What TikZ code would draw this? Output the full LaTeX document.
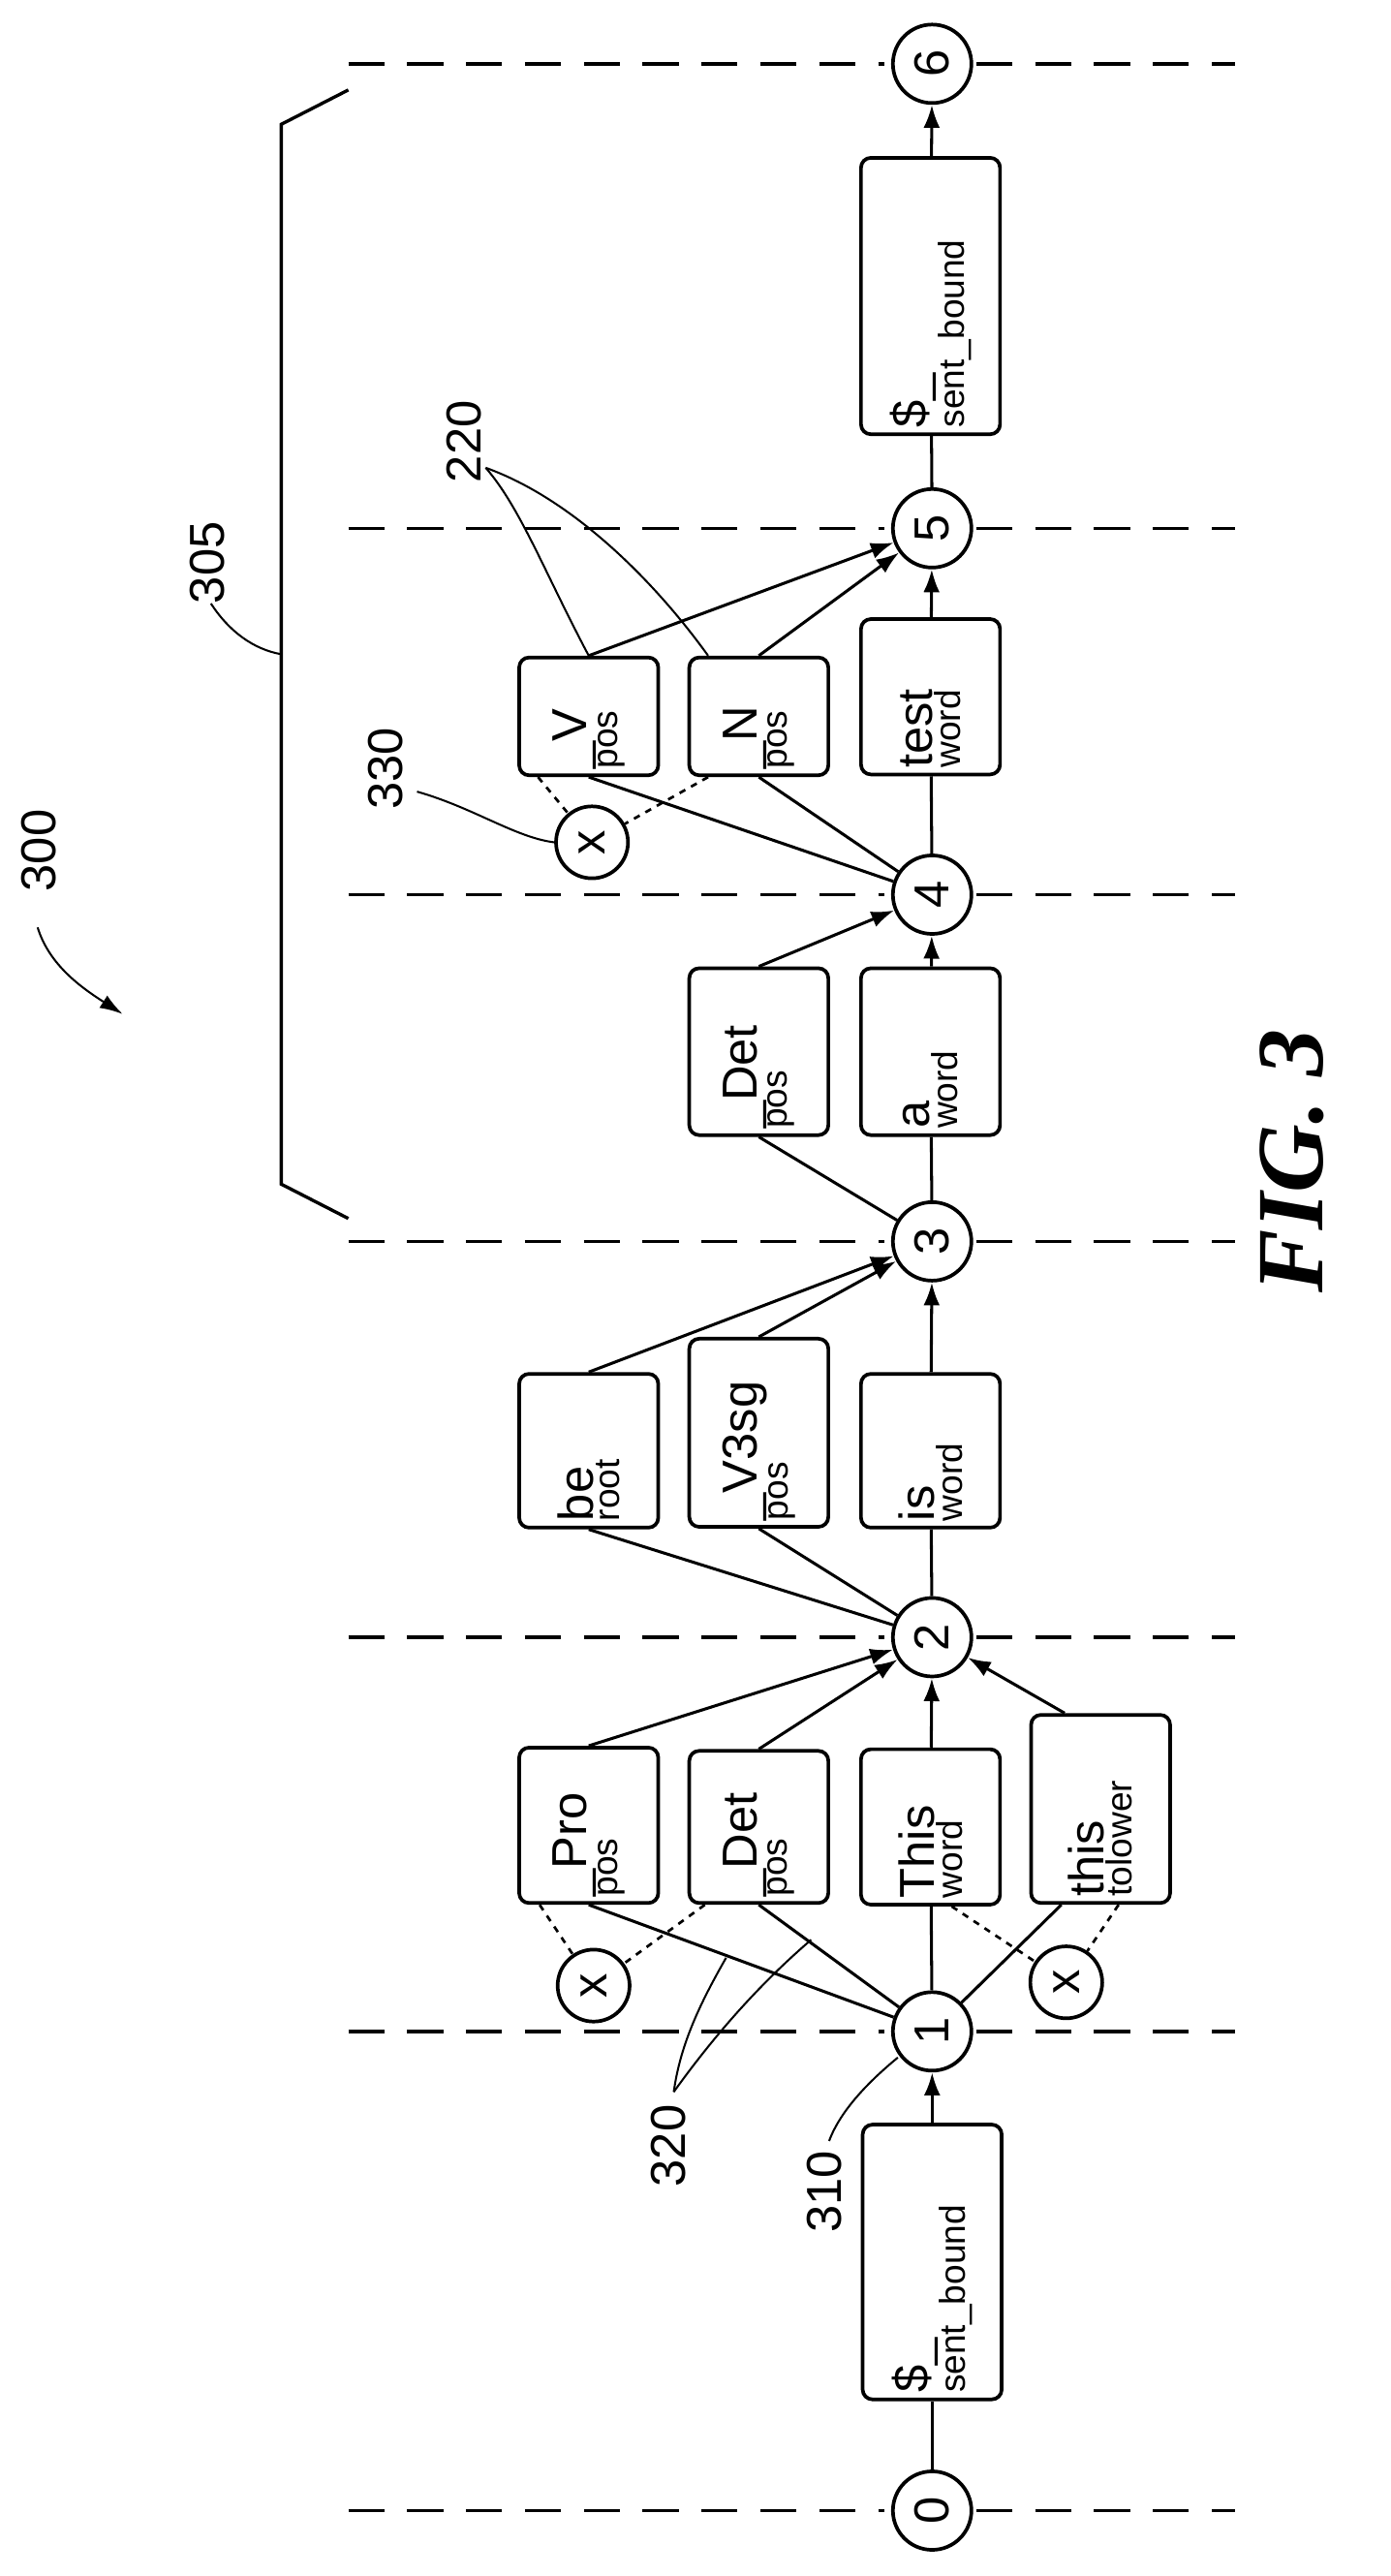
\documentclass[tikz,border=0pt]{standalone}
\usepackage{fontspec}
\setmainfont{Liberation Sans}
\newfontfamily\figfont{Liberation Serif}
\usetikzlibrary{arrows.meta,calc}
\newcommand{\mf}{\fontsize{30}{30}\selectfont}
\newcommand{\sff}{\fontsize{22}{26}\selectfont}
\begin{document}
\begin{tikzpicture}[x=1pt,y=-1pt,
  box/.style={draw,rounded corners=6pt,line width=2.2pt,rotate=90,inner xsep=4pt,inner ysep=1pt,minimum height=85pt,align=left},
  st/.style={draw,circle,line width=2.2pt,minimum size=48pt,inner sep=0pt,rotate=90,font=\fontsize{30}{30}\selectfont},
  xc/.style={draw,circle,line width=2.2pt,minimum size=44pt,inner sep=0pt,rotate=90,font=\fontsize{30}{30}\selectfont},
  ln/.style={line width=1.8pt},
  ar/.style={line width=1.8pt,-{Latex[length=14pt,width=10pt]}},
  dt/.style={line width=1.6pt,dash pattern=on 4pt off 4pt},
  grid/.style={line width=2pt,dash pattern=on 22pt off 14pt},
  lead/.style={line width=1.2pt},
  lbl/.style={rotate=90,font=\fontsize{30}{30}\selectfont}]
\useasboundingbox (0,0) rectangle (850,1575);
% dashed grid
\foreach \yy in {39,323,547,759,1001,1242,1535}{
  \draw[grid] (213,\yy) -- (541,\yy);
  \draw[grid] (597,\yy) -- (755,\yy);
}
% states
\node[st] (s0) at (570,1535) {0};
\node[st] (s1) at (570,1242) {1};
\node[st] (s2) at (570,1001) {2};
\node[st] (s3) at (570,759) {3};
\node[st] (s4) at (570,547) {4};
\node[st] (s5) at (570,323) {5};
\node[st] (s6) at (570,39) {6};
% boxes
\node[box,text width=160pt] (b0) at (570,1383) {\mf\$\_\\\sff sent\_bound};
\node[box,text width=87pt] (pro) at (360,1116) {\mf\_Pro\\\sff pos};
\node[box,text width=85pt] (det1) at (464,1117) {\mf\_Det\\\sff pos};
\node[box,text width=87pt] (This) at (569,1117) {\mf This\\\sff word};
\node[box,text width=107pt] (this) at (673,1106) {\mf this\\\sff tolower};
\node[box,text width=86pt] (be) at (360,887) {\mf be\\\sff root};
\node[box,text width=107pt] (v3) at (464,876) {\mf\_V3sg\\\sff pos};
\node[box,text width=86pt] (is) at (569,887) {\mf is\\\sff word};
\node[box,text width=94pt] (det2) at (464,643) {\mf\_Det\\\sff pos};
\node[box,text width=94pt] (a) at (569,643) {\mf a\\\sff word};
\node[box,text width=64pt] (v) at (360,438) {\mf\_V\\\sff pos};
\node[box,text width=64pt] (n) at (464,438) {\mf\_N\\\sff pos};
\node[box,text width=87pt] (test) at (569,426) {\mf test\\\sff word};
\node[box,text width=161pt] (b6) at (569,181) {\mf\$\_\\\sff sent\_bound};
% x circles
\node[xc] (x1) at (363,1214) {x};
\node[xc] (x2) at (652,1212) {x};
\node[xc] (x3) at (362,515) {x};
% connections 0-1
\draw[ln] (s0) -- (b0);
\draw[ar] (b0) -- (s1);
% 1-2
\draw[ln] (s1) -- (pro.west);
\draw[ln] (s1) -- (det1.west);
\draw[ln] (s1) -- (This);
\draw[ln] (s1) -- ([xshift=-24pt]this.west);
\draw[ar] (pro.east) -- (s2);
\draw[ar] (det1.east) -- (s2);
\draw[ar] (This) -- (s2);
\draw[ar] ([xshift=-22pt]this.east) -- (s2);
\draw[dt] ([xshift=-30pt]pro.west) -- (x1);
\draw[dt] ([xshift=-33pt]det1.west) -- (x1);
\draw[dt] ([xshift=13pt]This.west) -- (x2);
\draw[dt] ([xshift=11pt]this.west) -- (x2);
% 2-3
\draw[ln] (s2) -- (be.west);
\draw[ln] (s2) -- (v3.west);
\draw[ln] (s2) -- (is);
\draw[ar] (be.east) -- (s3);
\draw[ar] (v3.east) -- (s3);
\draw[ar] (is) -- (s3);
% 3-4
\draw[ln] (s3) -- (det2.west);
\draw[ln] (s3) -- (a);
\draw[ar] (det2.east) -- (s4);
\draw[ar] (a) -- (s4);
% 4-5
\draw[ln] (s4) -- (v.west);
\draw[ln] (s4) -- (n.west);
\draw[ln] (s4) -- (test);
\draw[ar] (v.east) -- (s5);
\draw[ar] (n.east) -- (s5);
\draw[ar] (test) -- (s5);
\draw[dt] ([xshift=-31pt]v.west) -- (x3);
\draw[dt] ([xshift=-31pt]n.west) -- (x3);
% 5-6
\draw[ln] (s5) -- (b6);
\draw[ar] (b6) -- (s6);
% bracket
\coordinate (bt) at (213,55);
\coordinate (bb) at (213,745);
\draw[line width=2pt] (bt) -- (172,76) -- (172,724) -- (bb);
% labels
\node[lbl] (l300) at (24,520) {300};
\node[lbl] (l305) at (127,344) {305};
\node[lbl] (l330) at (236,470) {330};
\node[lbl] (l220) at (284,270) {220};
\node[lbl] (l320) at (409,1312) {320};
\node[lbl] (l310) at (504,1340) {310};
\coordinate (a300s) at (23,567);
\coordinate (a300e) at (75,620);
\draw[lead,-{Latex[length=14pt,width=9pt]}] (a300s) .. controls (30,590) and (50,604) .. (a300e);
\coordinate (p305) at (129,369);
\draw[lead] (p305) .. controls (140,386) and (155,397) .. (172,400);
\coordinate (p330) at (255,484);
\draw[lead] (p330) .. controls (290,494) and (315,512) .. (x3.north);
\coordinate (p220) at (297,286);
\draw[lead] (p220) .. controls (318,310) and (333,350) .. (v.east);
\draw[lead] (p220) .. controls (350,305) and (400,355) .. ([xshift=-31pt]n.east);
\coordinate (p320) at (412,1279);
\draw[lead] (p320) .. controls (416,1250) and (428,1225) .. (444,1197);
\draw[lead] (p320) .. controls (440,1240) and (468,1210) .. (496,1186);
\coordinate (p310) at (507,1309);
\draw[lead] (p310) .. controls (514,1290) and (532,1272) .. (549,1258);
% caption
\node[rotate=90,font=\figfont\bfseries\itshape\fontsize{58}{58}\selectfont] (fig) at (790,710) {FIG. 3};
\end{tikzpicture}
\end{document}
